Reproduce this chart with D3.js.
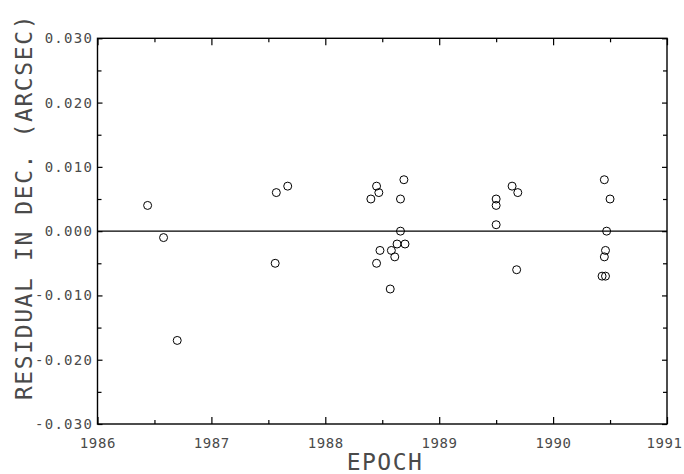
<!DOCTYPE html>
<html>
<head>
<meta charset="utf-8">
<script src="https://cdn.jsdelivr.net/npm/d3@7"></script>
<style>
  html, body { margin: 0; padding: 0; background: #fff; }
  svg text { font-family: "DejaVu Sans Mono", "Liberation Mono", monospace; fill: #4a4a4a; }
</style>
</head>
<body>
<svg id="chart" width="684" height="474"></svg>
<script>
// Residuals in declination vs. epoch
const epochs = [
  1986.44, 1986.58, 1986.70,
  1987.57, 1987.67, 1987.56,
  1988.40, 1988.45, 1988.47, 1988.45, 1988.48, 1988.57, 1988.58, 1988.61,
  1988.63, 1988.70, 1988.66, 1988.69, 1988.66,
  1989.50, 1989.50, 1989.50, 1989.64, 1989.69, 1989.68,
  1990.45, 1990.50, 1990.47, 1990.46, 1990.45, 1990.43, 1990.46
];
const residuals = [
  0.004, -0.001, -0.017,
  0.006, 0.007, -0.005,
  0.005, 0.007, 0.006, -0.005, -0.003, -0.009, -0.003, -0.004,
  -0.002, -0.002, 0.005, 0.008, 0.000,
  0.005, 0.004, 0.001, 0.007, 0.006, -0.006,
  0.008, 0.005, 0.000, -0.003, -0.004, -0.007, -0.007
];
const xTicks = [1986, 1987, 1988, 1989, 1990, 1991];
const xMinorTicks = [1986.5, 1987.5, 1988.5, 1989.5, 1990.5];
const yTicks = [-0.03, -0.02, -0.01, 0, 0.01, 0.02, 0.03];
const yMinorTicks = [-0.025, -0.015, -0.005, 0.005, 0.015, 0.025];
const xTitle = "EPOCH";
const yTitle = "RESIDUAL IN DEC. (ARCSEC)";

(function draw() {
  const svg = d3.select("#chart");
  const W = 684;
  const plotLeft = 97.5, plotRight = 667, plotTop = 38.3, plotBottom = 424;

  const x = d3.scaleLinear().domain([1986, 1991]).range([plotLeft, plotRight]);
  const y = d3.scaleLinear().domain([-0.03, 0.03]).range([plotBottom, plotTop]);

  const g = svg.append("g");

  // Frame
  g.append("rect")
    .attr("x", plotLeft).attr("y", plotTop)
    .attr("width", plotRight - plotLeft).attr("height", plotBottom - plotTop)
    .attr("fill", "none").attr("stroke", "#000").attr("stroke-width", 1.4);

  // Inward ticks on all four sides
  function tickAxis(axisFn, scale, values, size, tx, ty) {
    const a = axisFn(scale).tickValues(values).tickSize(size).tickFormat("");
    const sel = g.append("g").attr("transform", `translate(${tx},${ty})`).call(a);
    sel.select(".domain").remove();
    sel.selectAll(".tick line").attr("stroke", "#000").attr("stroke-width", 1.2);
  }
  tickAxis(d3.axisBottom, x, xTicks, -7, 0, plotBottom);
  tickAxis(d3.axisBottom, x, xMinorTicks, -4, 0, plotBottom);
  tickAxis(d3.axisTop, x, xTicks, -7, 0, plotTop);
  tickAxis(d3.axisTop, x, xMinorTicks, -4, 0, plotTop);
  tickAxis(d3.axisLeft, y, yTicks, -5, plotLeft, 0);
  tickAxis(d3.axisLeft, y, yMinorTicks, -4, plotLeft, 0);
  tickAxis(d3.axisRight, y, yTicks, -5, plotRight, 0);
  tickAxis(d3.axisRight, y, yMinorTicks, -4, plotRight, 0);

  // Tick labels
  const ls = 1.3;
  g.selectAll(".ylab").data(yTicks).enter().append("text")
    .attr("x", 92 + ls).attr("y", d => y(d))
    .attr("dy", "0.36em")
    .attr("text-anchor", "end")
    .attr("font-size", 14)
    .attr("letter-spacing", ls)
    .text(d => d3.format(".3f")(d).replace("\u2212", "-"));

  // Year labels, the last one kept inside the page edge
  g.selectAll(".xlab").data(xTicks).enter().append("text")
    .attr("x", d => Math.min(x(d) + 0.4, W - 19.5)).attr("y", 443)
    .attr("dy", "0.36em")
    .attr("text-anchor", "middle")
    .attr("font-size", 14)
    .attr("letter-spacing", 0.6)
    .text(d => String(d));

  // Zero line
  g.append("line")
    .attr("x1", plotLeft).attr("x2", plotRight)
    .attr("y1", y(0)).attr("y2", y(0))
    .attr("stroke", "#000").attr("stroke-width", 1.4);

  // Observations
  g.selectAll("circle.pt").data(epochs.map((e, i) => [e, residuals[i]]))
    .enter().append("circle")
    .attr("class", "pt")
    .attr("cx", d => x(d[0])).attr("cy", d => y(d[1]))
    .attr("r", 4)
    .attr("fill", "none").attr("stroke", "#000").attr("stroke-width", 1);

  // Axis titles
  g.append("text")
    .attr("x", 385).attr("y", 462)
    .attr("dy", "0.36em")
    .attr("text-anchor", "middle")
    .attr("font-size", 23)
    .attr("letter-spacing", 1.5)
    .text(xTitle);

  g.append("text")
    .attr("transform", "translate(23.5,207) rotate(-90)")
    .attr("dy", "0.36em")
    .attr("text-anchor", "middle")
    .attr("font-size", 23)
    .attr("letter-spacing", 1.6)
    .text(yTitle);
})();
</script>
</body>
</html>
